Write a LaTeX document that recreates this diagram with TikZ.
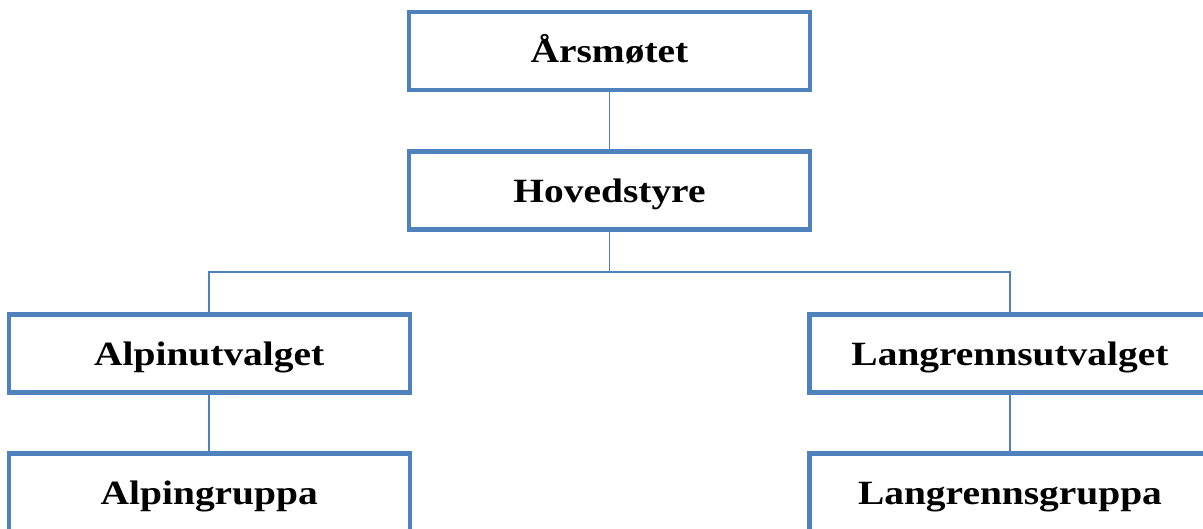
\documentclass[tikz,border=0pt]{standalone}
\usepackage{fontspec}
\setmainfont{Liberation Serif}[FakeStretch=1.16]
\usepackage{xcolor}
\definecolor{boxblue}{HTML}{4F81BD}

\begin{document}
\begin{tikzpicture}[x=1pt, y=-1pt,
    orgbox/.style={draw=boxblue, line width=4.5pt, fill=white, minimum width=401pt, minimum height=78pt,
        text height=24pt, text depth=0pt, font=\fontsize{34}{40}\selectfont\bfseries},
    link/.style={draw=boxblue, line width=1.6pt}]
    \useasboundingbox (0,0) rectangle (1203,529);
    \clip (0,0) rectangle (1203,529);

    % Top
    \node[orgbox] (aarsmote) at (609.5,51) {Årsmøtet};
    \node[orgbox] (styre) at (609.5,190.5) {Hovedstyre};

    % Branches
    \node[orgbox] (alpin) at (209.25,353.5) {Alpinutvalget};
    \node[orgbox] (alpingr) at (209.25,492.5) {Alpingruppa};
    \node[orgbox] (langr) at (1010,353.5) {Langrennsutvalget};
    \node[orgbox] (langrgr) at (1010,492.5) {Langrennsgruppa};

    % Lines
    \coordinate (bus) at (609.5,272);
    \draw[link] (aarsmote.south) -- (styre.north);
    \draw[link] (styre.south) -- (bus);
    \draw[link] (alpin.north) -- (alpin.north |- bus) -- (langr.north |- bus) -- (langr.north);
    \draw[link] (alpin.south) -- (alpingr.north);
    \draw[link] (langr.south) -- (langrgr.north);
\end{tikzpicture}
\end{document}
